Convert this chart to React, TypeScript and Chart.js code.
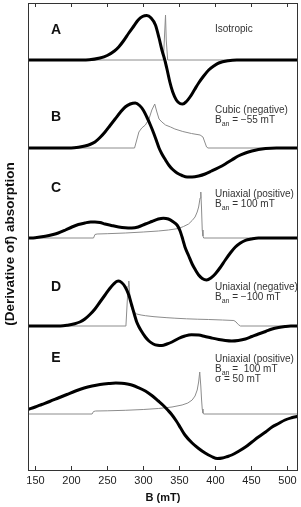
import React, { useEffect, useRef } from 'react';
import { Chart, registerables } from 'chart.js';

Chart.register(...registerables);

// ---- data (B in mT, signal in arbitrary units relative to each panel's baseline) ----
const xTicks = [150, 200, 250, 300, 350, 400, 450, 500];
const panelLabels = ['A', 'B', 'C', 'D', 'E'];
const panelOffsets = [411, 323, 233, 145, 57];

const fieldDerivA = [140, 200, 225, 240, 250, 260, 266, 273, 280, 287, 293, 299, 305, 311, 317, 322, 326, 330, 333, 337, 341, 346, 351, 355, 360, 365, 371, 377, 384, 391, 398, 405, 418, 430, 515];
const derivA = [0, 0, 0.3, 2, 4.5, 9, 13, 19.5, 27, 34, 40, 43.5, 44.5, 42, 35, 22, 10, 0, -9, -22, -32, -40, -43.5, -44, -41.5, -37, -30, -23, -16, -10, -6, -3, -0.7, 0, 0];
const fieldAbsA = [140, 328, 330, 331, 332, 334, 515];
const absA = [0, 0, 30, 45, 20, 0, 0];

const fieldDerivB = [140, 200, 212, 219, 226, 233, 240, 247, 254, 261, 268, 275, 282, 289, 295, 300, 305, 310, 315, 319, 322, 326, 331, 336, 341, 347, 354, 361, 368, 377, 386, 395, 405, 414, 423, 432, 442, 451, 460, 470, 485, 515];
const derivB = [0, 0, 1, 2, 3.5, 6, 10.5, 16, 22.5, 29, 35.5, 41, 44, 45, 42.5, 38, 31, 23, 14, 6, 0, -6, -12, -17.5, -21.5, -25, -27.5, -29, -29, -28, -26, -23, -19.5, -16, -12, -8, -5, -3, -1.5, -0.5, 0, 0];
const fieldAbsB = [140, 288, 291, 294, 298, 303, 308, 312, 316, 319, 322, 326, 331, 338, 344, 355, 367, 379, 383, 386, 388, 390, 515];
const absB = [0, 0, 8, 16, 20, 23, 29, 38, 44, 36, 29, 26, 23, 21, 19, 16.5, 14.5, 13, 11, 5, 1, 0, 0];

const fieldDerivC = [140, 150, 164, 175, 182, 192, 201, 210, 219, 227, 233, 240, 247, 256, 266, 275, 284, 293, 303, 312, 321, 328, 335, 341, 347, 351, 354, 356, 358, 363, 368, 373, 377, 382, 388, 394, 400, 407, 414, 421, 428, 435, 442, 450, 460, 515];
const derivC = [0, 0.3, 1.7, 3.5, 5, 8, 11, 13.5, 15, 16, 16, 15.5, 14, 12.5, 11, 10.2, 10, 11, 14, 16.5, 19, 19.8, 19, 16.5, 13, 7.5, 1, -4, -9, -17.5, -26, -32.5, -37, -40.5, -42, -40, -36, -29.5, -22, -15, -9, -5, -2.3, -1, 0, 0];
const fieldAbsC = [140, 231, 233, 236, 250, 275, 300, 321, 335, 349, 356, 363, 368, 372, 375, 377, 379, 380, 381, 382, 383, 384, 515];
const absC = [0, 0, 3.5, 4, 4.3, 5, 6, 7, 8, 9.5, 11.5, 14, 17.5, 21, 26, 31, 40, 46, 30, 8, 2, 0, 0];

const fieldDerivD = [140, 185, 195, 205, 212, 219, 226, 233, 240, 247, 253, 259, 263, 266, 270, 275, 280, 284, 288, 291, 293.5, 297, 303, 308, 314, 320, 326, 333, 340, 349, 358, 367, 377, 386, 395, 405, 414, 423, 432, 442, 451, 460, 470, 479, 488, 497, 505, 515];
const derivD = [0, 0, 0.8, 2.3, 4, 7, 11.5, 17, 24, 31, 37, 42, 44.5, 45, 43.5, 39, 31, 21, 11, 4, 0, -4.5, -11, -15, -18, -19.3, -19.5, -18, -16, -12.5, -10, -8.7, -9, -10.5, -12, -13.5, -14.5, -15, -14.5, -13, -10.5, -8, -5.5, -3, -1.5, -0.5, 0, 0];
const fieldAbsD = [140, 276, 277.5, 279, 280, 281.5, 283, 285, 288, 291, 297, 303, 315, 333, 344, 360, 375, 391, 410, 426, 429, 432, 435, 515];
const absD = [0, 0, 20, 40, 45, 30, 20, 16, 13.5, 12, 11, 10.3, 9.3, 8.3, 7.8, 7.2, 6.8, 6.5, 6, 5.5, 4, 1.5, 0, 0];

const fieldDerivE = [140, 150, 159, 170, 182, 194, 206, 218, 229, 240, 252, 262, 270, 278, 284, 293, 303, 312, 321, 328, 334, 339, 346, 352, 358, 368, 377, 386, 395, 403, 410, 417, 423, 432, 442, 451, 460, 470, 479, 488, 497, 506, 515];
const derivE = [4.5, 7, 9.5, 12.5, 16, 19.5, 23, 26, 28, 29.5, 30.5, 31, 30.8, 30, 29, 26.5, 23, 18.5, 13, 8.5, 4, 0, -7, -14, -21, -29, -34.5, -39, -42.5, -44.5, -44, -42.5, -41, -37.5, -33, -28, -23, -18, -13, -9.5, -6, -3.8, -2.2];
const fieldAbsE = [140, 229, 231, 234, 250, 275, 300, 321, 340, 354, 362, 368, 372, 375, 377, 378.5, 380, 381, 382, 383, 384, 515];
const absE = [0, 0, 2.5, 3, 3.2, 3.7, 4.5, 5.5, 7, 9, 11, 14, 18, 24, 32, 42, 28, 15, 5, 1, 0, 0];

const derivFields = [fieldDerivA, fieldDerivB, fieldDerivC, fieldDerivD, fieldDerivE];
const derivValues = [derivA, derivB, derivC, derivD, derivE];
const absFields = [fieldAbsA, fieldAbsB, fieldAbsC, fieldAbsD, fieldAbsE];
const absValues = [absA, absB, absC, absD, absE];

const FONT = '"Liberation Sans", Arial, Helvetica, sans-serif';

function pts(xs: number[], ys: number[], off: number) {
  return xs.map((x, i) => ({ x, y: ys[i] + off }));
}

const decorPlugin = {
  id: 'decor',
  afterDraw(chart: any) {
    const ctx = chart.ctx as CanvasRenderingContext2D;
    const a = chart.chartArea;
    const xs = chart.scales.x;
    ctx.save();
    // frame
    ctx.strokeStyle = '#333';
    ctx.lineWidth = 1;
    ctx.strokeRect(a.left + 0.5, a.top + 0.5, a.right - a.left - 1, a.bottom - a.top - 1);
    // inward ticks top & bottom, tick labels
    ctx.fillStyle = '#222';
    ctx.font = `11px ${FONT}`;
    ctx.textAlign = 'center';
    ctx.textBaseline = 'middle';
    xTicks.forEach((t) => {
      const px = Math.round(xs.getPixelForValue(t)) + 0.5;
      ctx.beginPath();
      ctx.moveTo(px, a.top);
      ctx.lineTo(px, a.top + 4);
      ctx.moveTo(px, a.bottom);
      ctx.lineTo(px, a.bottom - 5);
      ctx.stroke();
      ctx.fillText(String(t), px, a.bottom + 10);
    });
    // axis titles
    ctx.font = `bold 11px ${FONT}`;
    ctx.fillStyle = '#111';
    ctx.fillText('B (mT)', (a.left + a.right) / 2, 498);
    ctx.save();
    ctx.translate(10, 244);
    ctx.rotate(-Math.PI / 2);
    ctx.font = `bold 13.5px ${FONT}`;
    ctx.fillText('(Derivative of) absorption', 0, 0);
    ctx.restore();
    // panel letters
    const letterY = [30, 117, 188, 287, 358];
    ctx.font = `bold 14px ${FONT}`;
    ctx.fillStyle = '#111';
    panelLabels.forEach((l, i) => ctx.fillText(l, 56, letterY[i]));
    // annotations
    ctx.textAlign = 'left';
    ctx.fillStyle = '#333';
    const ax = 215;
    const plain = (s: string, y: number) => {
      ctx.font = `10px ${FONT}`;
      ctx.fillText(s, ax, y);
    };
    const ban = (rest: string, y: number) => {
      ctx.font = `10px ${FONT}`;
      ctx.fillText('B', ax, y);
      const w = ctx.measureText('B').width;
      ctx.font = `7px ${FONT}`;
      ctx.fillText('an', ax + w, y + 4);
      const w2 = ctx.measureText('an').width;
      ctx.font = `10px ${FONT}`;
      ctx.fillText(rest, ax + w + w2, y);
    };
    plain('Isotropic', 29);
    plain('Cubic (negative)', 110);
    ban(' = \u221255 mT', 120);
    plain('Uniaxial (positive)', 194);
    ban(' = 100 mT', 204);
    plain('Uniaxial (negative)', 287);
    ban(' = \u2212100 mT', 297);
    plain('Uniaxial (positive)', 359);
    ban(' =  100 mT', 369);
    plain('\u03c3 = 50 mT', 379);
    ctx.restore();
  },
};

export default function App() {
  const ref = useRef<HTMLCanvasElement | null>(null);
  useEffect(() => {
    document.body.style.margin = '0';
    document.body.style.background = '#fff';
    const datasets: any[] = [];
    panelOffsets.forEach((off, i) => {
      datasets.push({
        data: pts(derivFields[i], derivValues[i], off),
        borderColor: '#000',
        borderWidth: 3,
        pointRadius: 0,
        cubicInterpolationMode: 'monotone',
        borderJoinStyle: 'round',
        borderCapStyle: 'round',
        fill: false,
        order: 0,
      });
      datasets.push({
        data: pts(absFields[i], absValues[i], off),
        borderColor: '#8c8c8c',
        borderWidth: 1,
        pointRadius: 0,
        tension: 0,
        fill: false,
        order: 1,
      });
    });
    const chart = new Chart(ref.current as HTMLCanvasElement, {
      type: 'line',
      data: { datasets },
      options: {
        animation: false,
        responsive: false,
        devicePixelRatio: 1,
        layout: { padding: { left: 28, right: 3, top: 3, bottom: 36 } },
        plugins: { legend: { display: false }, tooltip: { enabled: false } },
        events: [],
        scales: {
          x: { type: 'linear', min: 140, max: 515, display: false },
          y: { type: 'linear', min: 0, max: 468, display: false },
        },
      },
      plugins: [decorPlugin],
    });
    return () => chart.destroy();
  }, []);
  return (
    <div style={{ width: 301, height: 507 }}>
      <canvas ref={ref} width={301} height={507} style={{ display: 'block' }} />
    </div>
  );
}
